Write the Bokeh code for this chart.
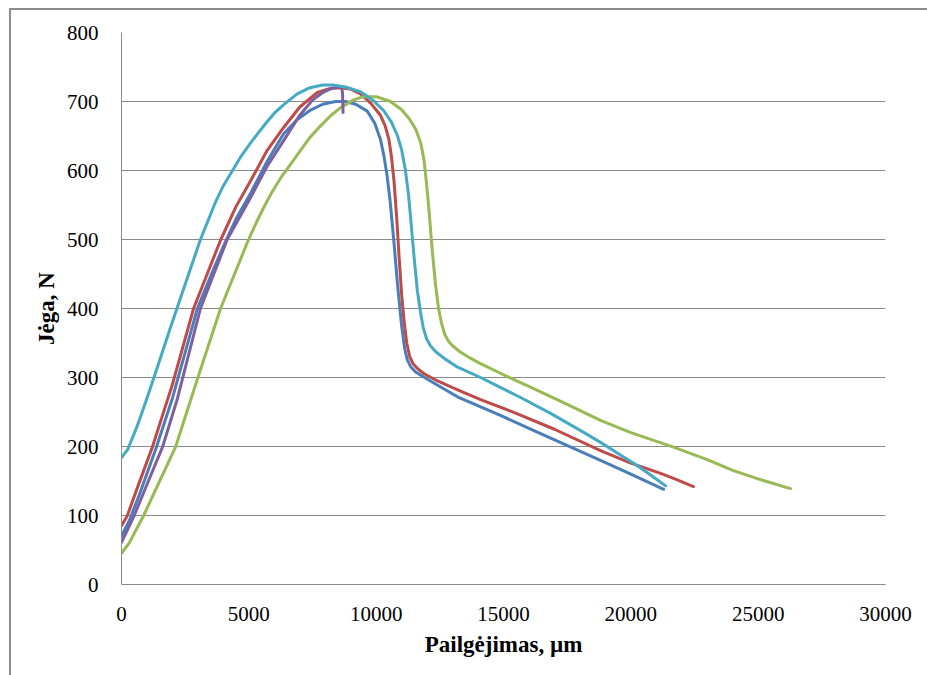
from bokeh.plotting import figure
from bokeh.models import Range1d, SingleIntervalTicker
from bokeh.embed import file_html
from bokeh.resources import INLINE

# Elongation (µm) and force (N) for five test specimens
x1 = [0, 300, 700, 1370, 2000, 2980, 3500, 4000, 4500, 5070, 5700, 6360, 6900, 7400,
      7900, 8400, 8800, 9200, 9650, 9950, 10170, 10300, 10420, 10550, 10700, 10850,
      11000, 11120, 11220, 11350, 11550, 11850, 12130, 13190, 14880, 16500, 18810,
      20000, 21290]
y1 = [70, 92, 130, 199, 270, 400, 447, 490, 530, 567, 612, 653, 674, 687,
      696, 700, 700, 696, 686, 668, 645, 622, 595, 555, 495, 430,
      375, 342, 326, 316, 308, 301, 295, 272, 245, 218, 180,
      160, 138]

x2 = [0, 230, 700, 1210, 2000, 2830, 3900, 4500, 5070, 5700, 6360, 7000, 7690, 8200,
      8600, 9000, 9390, 9800, 10170, 10350, 10500, 10600, 10700, 10800, 10900, 11000,
      11100, 11200, 11320, 11450, 11650, 11900, 12410, 13200, 14100, 15500, 17000,
      18810, 20000, 21170, 21800, 22460]
y2 = [85, 100, 148, 199, 290, 400, 500, 548, 585, 628, 662, 692, 713, 719,
      720, 718, 711, 697, 680, 665, 645, 620, 585, 535, 475, 420,
      380, 350, 330, 320, 312, 305, 295, 282, 268, 248, 225,
      194, 176, 161, 152, 142]

x3 = [0, 300, 870, 1500, 2120, 3000, 3890, 4990, 5300, 5580, 5900, 6300, 6700, 7030,
      7400, 7800, 8200, 8600, 9100, 9500, 10000, 10560, 11000, 11300, 11550, 11750,
      11880, 11980, 12080, 12200, 12330, 12450, 12570, 12700, 12850, 13000, 13300,
      13700, 14100, 15000, 16060, 17500, 18810, 20000, 21680, 23000, 24030, 25000,
      26270]
y3 = [45, 60, 100, 150, 199, 300, 400, 500, 525, 546, 568, 592, 612, 629,
      648, 664, 679, 691, 702, 707, 707, 700, 688, 675, 660, 640,
      615, 580, 540, 485, 435, 400, 378, 362, 352, 346, 337,
      328, 320, 304, 286, 261, 238, 220, 199, 181, 165, 153,
      139]

x4 = [0, 500, 1000, 1610, 2200, 3100, 4150, 5070, 5700, 6360, 7000, 7500, 7900, 8250,
      8520, 8640, 8680, 8700]
y4 = [61, 100, 145, 199, 270, 400, 500, 561, 605, 643, 680, 702, 713, 719,
      721, 721, 712, 684]

x5 = [0, 250, 600, 1000, 1500, 1900, 2500, 3100, 3700, 4000, 4360, 4700, 5070, 5400,
      5700, 6000, 6360, 6900, 7400, 7900, 8300, 8800, 9390, 9900, 10290, 10600, 10840,
      11000, 11150, 11270, 11380, 11500, 11620, 11740, 11850, 11980, 12130, 12350,
      12700, 13200, 14100, 15670, 16850, 18030, 18810, 19500, 20260, 20800, 21360]
y5 = [184, 196, 228, 270, 325, 370, 435, 500, 555, 578, 600, 621, 640, 656,
      670, 683, 695, 711, 720, 724, 724, 721, 714, 701, 687, 670, 650,
      630, 600, 565, 520, 470, 425, 395, 372, 356, 346, 337,
      327, 315, 300, 271, 248, 223, 206, 190, 172, 158, 143]

series = [
    (x1, y1, "#4a7ebb"),
    (x2, y2, "#be4b48"),
    (x3, y3, "#98b954"),
    (x4, y4, "#7d60a0"),
    (x5, y5, "#46aac5"),
]

x_ticks_step = 5000
y_ticks_step = 100

grid_gray = "#8a8a8a"
serif = "Liberation Serif"

p = figure(
    width=927, height=675,
    x_range=Range1d(0, 30000), y_range=Range1d(0, 800),
    output_backend="svg", toolbar_location=None,
    min_border_left=121, min_border_right=42,
    min_border_top=32, min_border_bottom=91,
)

# chart-area frame: thin gray rule along the top and left edges of the page
p.border_fill_alpha = 0
p.background_fill_color = "white"
p.styles = {
    "background": "linear-gradient(#8c8c8c,#8c8c8c) 9px 8px / 100% 2px no-repeat, "
                  "linear-gradient(#8c8c8c,#8c8c8c) 9px 8px / 2px 100% no-repeat, white",
}
p.outline_line_color = None

p.xaxis.ticker = SingleIntervalTicker(interval=x_ticks_step)
p.yaxis.ticker = SingleIntervalTicker(interval=y_ticks_step)
p.xgrid.visible = False
p.ygrid.grid_line_color = grid_gray
p.ygrid.grid_line_width = 1

for ax in (p.xaxis, p.yaxis):
    ax.axis_line_color = grid_gray
    ax.axis_line_width = 1
    ax.major_tick_line_color = None
    ax.minor_tick_line_color = None
    ax.major_label_text_font = serif
    ax.major_label_text_font_size = "21px"
    ax.major_label_text_color = "black"
    ax.axis_label_text_font = serif
    ax.axis_label_text_font_style = "bold"
    ax.axis_label_text_font_size = "23px"
    ax.axis_label_text_color = "black"

p.xaxis.axis_label = "Pailgėjimas, µm"
p.yaxis.axis_label = "Jėga, N"
p.xaxis.major_label_standoff = 16
p.yaxis.major_label_standoff = 17
p.xaxis.axis_label_standoff = 8
p.yaxis.axis_label_standoff = 5

for xs, ys, color in series:
    p.line(xs, ys, line_color=color, line_width=3, line_join="round", line_cap="round")

open("out.html", "w").write(file_html(p, INLINE))
